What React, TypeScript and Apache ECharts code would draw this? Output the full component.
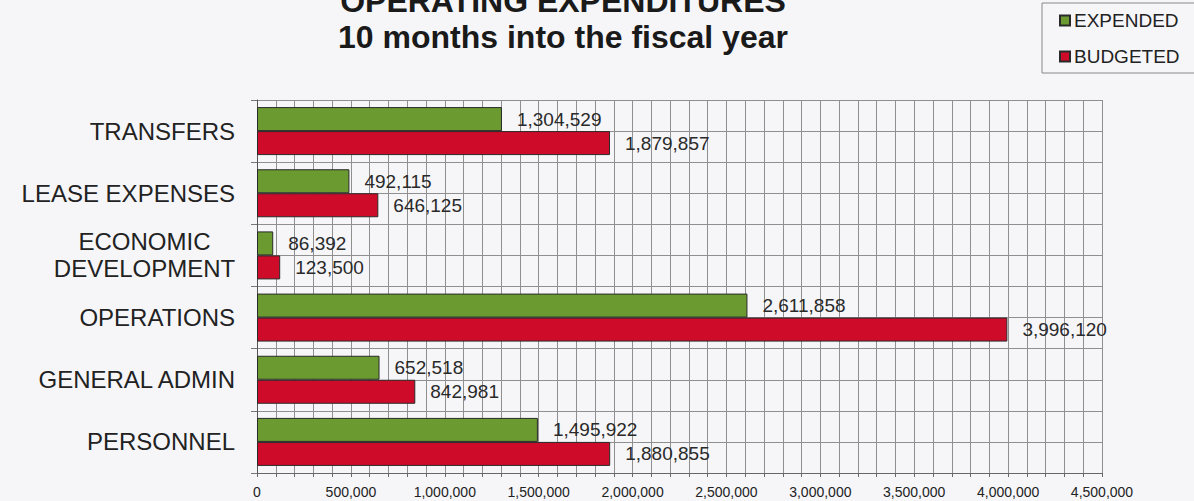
import React, { useEffect, useRef } from "react";
import * as echarts from "echarts";

const categories = [
  "TRANSFERS",
  "LEASE EXPENSES",
  "ECONOMIC\nDEVELOPMENT",
  "OPERATIONS",
  "GENERAL ADMIN",
  "PERSONNEL",
];
const expended = [1304529, 492115, 86392, 2611858, 652518, 1495922];
const budgeted = [1879857, 646125, 123500, 3996120, 842981, 1880855];
const xTicks = [0, 500000, 1000000, 1500000, 2000000, 2500000, 3000000, 3500000, 4000000, 4500000];
const titleLine1 = "OPERATING EXPENDITURES";
const titleLine2 = "10 months into the fiscal year";

const fmt = (v: number) => v.toLocaleString("en-US");

export default function App() {
  const ref = useRef<HTMLDivElement>(null);
  useEffect(() => {
    if (!ref.current) return;
    const chart = echarts.init(ref.current, null, { renderer: "svg" });
    const font = "Arial, 'Liberation Sans', sans-serif";
    const halfBands: string[] = [];
    categories.forEach((c) => {
      halfBands.push(c + "_a");
      halfBands.push(c + "_b");
    });
    const catData = categories.map((c) =>
      c.includes("\n")
        ? {
            value: c,
            textStyle: { align: "center", padding: [0, 181, 0, 0], lineHeight: 27 },
          }
        : c
    );
    chart.setOption({
      animation: false,
      backgroundColor: "#f6f6f9",
      textStyle: { fontFamily: font },
      title: [
        {
          text: titleLine1,
          left: 558,
          top: -20,
          textAlign: "center",
          textStyle: { fontSize: 32, fontWeight: "bold", color: "#1a1a1a", fontFamily: font },
        },
        {
          text: titleLine2,
          left: 558,
          top: 16,
          textAlign: "center",
          textStyle: { fontSize: 32, fontWeight: "bold", color: "#1a1a1a", fontFamily: font },
        },
      ],
      legend: {
        orient: "vertical",
        left: 1042,
        top: 3,
        data: ["EXPENDED", "BUDGETED"],
        itemWidth: 10,
        itemHeight: 10,
        itemGap: 17,
        padding: [8, 60, 7, 17],
        borderColor: "#888",
        borderWidth: 1,
        icon: "rect",
        textStyle: { fontSize: 19, color: "#222", fontFamily: font, padding: [0, 0, 0, -1] },
      },
      grid: { left: 257, right: 92, top: 100, bottom: 28, containLabel: false },
      xAxis: {
        type: "value",
        min: 0,
        max: 4500000,
        interval: 500000,
        axisLine: { show: true, lineStyle: { color: "#666" } },
        axisTick: { show: true, length: 4, lineStyle: { color: "#666" } },
        minorTick: { show: true, splitNumber: 5, length: 4, lineStyle: { color: "#666" } },
        splitLine: { show: true, lineStyle: { color: "#8f8f8f", width: 1 } },
        minorSplitLine: { show: true, lineStyle: { color: "#8f8f8f", width: 1 } },
        axisLabel: {
          fontSize: 14,
          color: "#222",
          margin: 12,
          formatter: (v: number) => (xTicks.includes(v) ? fmt(v) : ""),
        },
      },
      yAxis: [
        {
          type: "category",
          inverse: true,
          data: catData,
          axisLine: { show: true, lineStyle: { color: "#555" } },
          axisTick: { show: true, length: 6, lineStyle: { color: "#777" } },
          splitLine: { show: true, lineStyle: { color: "#8f8f8f" } },
          axisLabel: { fontSize: 24, color: "#222", margin: 22, fontFamily: font },
        },
        {
          type: "category",
          inverse: true,
          position: "left",
          data: halfBands,
          axisLine: { show: false },
          axisTick: { show: false },
          axisLabel: { show: false },
          splitLine: { show: true, lineStyle: { color: "#8f8f8f" } },
        },
      ],
      series: [
        {
          name: "EXPENDED",
          type: "bar",
          yAxisIndex: 0,
          data: expended,
          barWidth: 24,
          barGap: "0%",
          itemStyle: { color: "#6a9a30", borderColor: "#2a2a2a", borderWidth: 1 },
          label: {
            show: true,
            position: "right",
            distance: 15,
            fontSize: 19,
            color: "#2a2a2a",
            formatter: (p: any) => fmt(p.value),
          },
        },
        {
          name: "BUDGETED",
          type: "bar",
          yAxisIndex: 0,
          data: budgeted,
          barWidth: 24,
          barGap: "0%",
          itemStyle: { color: "#cf0b2a", borderColor: "#2a2a2a", borderWidth: 1 },
          label: {
            show: true,
            position: "right",
            distance: 15,
            fontSize: 19,
            color: "#2a2a2a",
            formatter: (p: any) => fmt(p.value),
          },
        },
      ],
    });
    return () => chart.dispose();
  }, []);
  return (
    <div
      ref={ref}
      style={{ position: "fixed", left: 0, top: 0, width: 1194, height: 501 }}
    />
  );
}
